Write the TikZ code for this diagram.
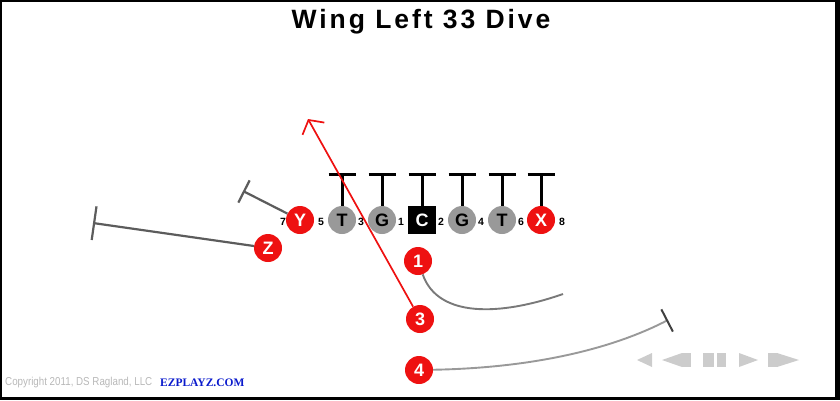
\documentclass[tikz,border=0pt]{standalone}
\usepackage{fontspec}
\setmainfont{Liberation Sans}
\newfontfamily\ezfont{Liberation Serif}
\newfontfamily\titlefont[LetterSpace=11]{Liberation Sans}
\newfontfamily\copyfont[FakeStretch=0.85]{Liberation Sans}
\usetikzlibrary{arrows.meta}
\definecolor{plred}{HTML}{EE1111}
\definecolor{plgray}{HTML}{999999}
\definecolor{rtgray}{HTML}{666666}
\definecolor{ctlgray}{HTML}{CCCCCC}
\definecolor{ezblue}{HTML}{0A1ACC}

\begin{document}
\begin{tikzpicture}[x=1pt,y=-1pt]
	\useasboundingbox (0,0) rectangle (840,400);
	% frame
	\fill[black] (0,0) rectangle (840,2);
	\fill[black] (0,0) rectangle (2,400);
	\fill[black] (835,0) rectangle (840,400);
	\fill[black] (0,397) rectangle (840,400);

	\node[font=\titlefont\fontsize{26.5}{26.5}\selectfont\bfseries] (title) at (421,22) {Wing Left 33 Dive};

	% offense
	\begin{scope}[every node/.style={circle,minimum size=28,inner sep=0,font=\fontsize{18}{18}\selectfont\bfseries}]
		\node[fill=plgray] (LT) at (342,220) {T};
		\node[fill=plgray] (LG) at (382,220) {G};
		\node[rectangle,fill=black,text=white] (C) at (422,220) {C};
		\node[fill=plgray] (RG) at (462,220) {G};
		\node[fill=plgray] (RT) at (502,220) {T};
		\node[fill=plred,text=white] (X) at (541,220) {X};
		\node[fill=plred,text=white] (Y) at (300,220) {Y};
		\node[fill=plred,text=white] (Z) at (268,248) {Z};
		\node[fill=plred,text=white] (B1) at (418,261) {1};
		\node[fill=plred,text=white] (B3) at (420,319) {3};
		\node[fill=plred,text=white] (B4) at (419,370) {4};
	\end{scope}

	% holes
	\begin{scope}[every node/.style={inner sep=0,font=\fontsize{10.5}{10.5}\selectfont\bfseries}]
		\node (h7) at (283,222) {7};
		\node (h5) at (321,222) {5};
		\node (h3) at (361,222) {3};
		\node (h1) at (401,222) {1};
		\node (h2) at (441,222) {2};
		\node (h4) at (481,222) {4};
		\node (h6) at (521,222) {6};
		\node (h8) at (562,222) {8};
	\end{scope}

	% line blocks
	\foreach \p/\x in {LT/342,LG/382,C/422,RG/462,RT/502,X/541}{
		\coordinate (b\p) at (\x,173);
		\draw[line width=3,-{Bar[width=27,line width=3.2]}] (\p) -- (b\p);
	}

	% routes
	\coordinate (bY) at (243,191);
	\coordinate (bZ) at (93,223);
	\coordinate (e1) at (563,294);
	\coordinate (e3) at (308,119);
	\coordinate (e4) at (668,320);
	\draw[rtgray!90!black,line width=2.2,-{Bar[width=25,line width=2.2]}] (Y) -- (bY);
	\draw[rtgray!90!black,line width=2.2,-{Bar[width=34,line width=2.2]}] (Z) -- (bZ);
	\draw[plred,line width=1.7,-{Straight Barb[length=10,width=25,line width=1.7]}] (B3) -- (e3);
	\draw[gray!95!black,line width=1.9] (B1) .. controls (438,318) and (500,316) .. (e1);
	\draw[gray!80,line width=1.9,-{Bar[width=25,line width=2,color=black!75]}] (B4) .. controls (530,368) and (610,350) .. (e4);

	% footer
	\node[anchor=west,inner sep=0,text=black!28,font=\copyfont\fontsize{11.5}{11.5}\selectfont] (copy) at (5,383) {Copyright 2011, DS Ragland, LLC};
	\node[anchor=west,inner sep=0,text=ezblue,font=\ezfont\fontsize{11.5}{11.5}\selectfont\bfseries] (ez) at (160,383) {EZPLAYZ.COM};

	% player controls
	\begin{scope}[ctlgray]
		\fill (637,360) -- (652,353) -- (652,367) -- cycle;
		\fill (662,360) -- (682,353) -- (682,367) -- cycle;
		\fill (682,353) rectangle (691,367);
		\fill (703,353) rectangle (714,367);
		\fill (717,353) rectangle (726,367);
		\fill (758,360) -- (739,353) -- (739,367) -- cycle;
		\fill (768,353) rectangle (777,367);
		\fill (799,360) -- (777,353) -- (777,367) -- cycle;
	\end{scope}
\end{tikzpicture}
\end{document}
